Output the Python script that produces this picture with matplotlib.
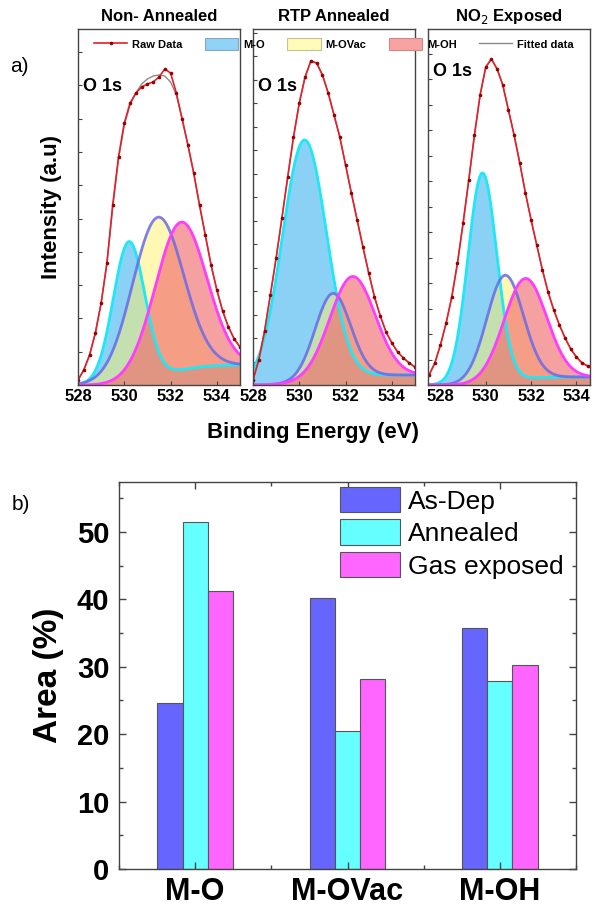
import numpy as np
import matplotlib
matplotlib.use('Agg')
import matplotlib.pyplot as plt
from matplotlib.patches import Patch
from matplotlib.lines import Line2D
from matplotlib.ticker import MultipleLocator

plt.rcParams['font.family'] = ['Liberation Sans', 'DejaVu Sans']

# ---------------- data: panel a (XPS O 1s) ----------------
PANEL_TITLES = ['Non- Annealed', 'RTP Annealed', 'NO$_2$ Exposed']
COMPONENT_NAMES = ['M-O', 'M-OVac', 'M-OH']

ENERGY_12 = [528.0, 528.25, 528.5, 528.75, 529.0, 529.25, 529.5, 529.75, 530.0,
             530.25, 530.5, 530.75, 531.0, 531.25, 531.5, 531.75, 532.0, 532.25,
             532.5, 532.75, 533.0, 533.25, 533.5, 533.75, 534.0, 534.25, 534.5,
             534.75, 535.0]
ENERGY_3 = [527.5, 527.75, 528.0, 528.25, 528.5, 528.75, 529.0, 529.25, 529.5,
            529.75, 530.0, 530.25, 530.5, 530.75, 531.0, 531.25, 531.5, 531.75,
            532.0, 532.25, 532.5, 532.75, 533.0, 533.25, 533.5, 533.75, 534.0,
            534.25, 534.5]

RAW_1 = [5, 15, 30, 52, 82, 122, 180, 228, 262, 282, 292, 298, 301, 303, 308,
         316, 312, 292, 266, 240, 212, 180, 150, 120, 95, 74, 58, 46, 38]
FIT_1 = [5, 15, 30, 52, 82, 122, 178, 226, 260, 280, 292, 301, 306, 309, 310,
         309, 303, 290, 266, 240, 212, 180, 150, 120, 95, 74, 58, 46, 38]
RAW_2 = [5, 25, 54, 90, 127, 167, 208, 248, 282, 308, 324, 322, 310, 292, 270,
         248, 220, 192, 165, 138, 112, 88, 69, 53, 42, 33, 27, 22, 18]
FIT_2 = RAW_2
RAW_3 = [10, 22, 40, 62, 88, 122, 162, 205, 250, 290, 318, 326, 316, 300, 275,
         250, 222, 192, 165, 140, 115, 93, 75, 60, 47, 36, 28, 22, 19]
FIT_3 = RAW_3

# fitted component peaks: centre (eV), height (a.u.), FWHM (eV)
CENTERS = [[530.2, 531.45, 532.45], [530.22, 531.45, 532.3], [529.85, 530.85, 531.75]]
HEIGHTS = [[140, 158, 148], [242, 85, 100], [210, 105, 100]]
FWHMS = [[1.6, 2.6, 2.6], [2.25, 1.8, 2.3], [1.5, 1.9, 2.2]]
BG_HIGH = [20, 10, 8]

# ---------------- data: panel b (bar chart) ----------------
BAR_CATEGORIES = ['M-O', 'M-OVac', 'M-OH']
AS_DEP = [24.6, 40.15, 35.7]
ANNEALED = [51.4, 20.5, 27.9]
GAS_EXPOSED = [41.3, 28.2, 30.3]
BAR_LABELS = ['As-Dep', 'Annealed', 'Gas exposed']

# ---------------- figure ----------------
W, H = 596, 911
fig = plt.figure(figsize=(W / 100, H / 100), dpi=100)


def fax(l, t, r, b):
    return fig.add_axes([l / W, 1 - b / H, (r - l) / W, (b - t) / H])


panel_px = [(78, 240), (253, 415), (428, 590)]
xlims = [(528.0, 535.0), (528.0, 535.0), (527.45, 534.6)]
ytick_step = [33.3, 23.5, 25.5]
otext_y = [299, 299, 314]
energies = [ENERGY_12, ENERGY_12, ENERGY_3]
raws = [RAW_1, RAW_2, RAW_3]
fits = [FIT_1, FIT_2, FIT_3]

fill_cols = ['#5ec0f2', '#fff06a', '#f26868']
fill_alpha = [0.72, 0.5, 0.62]
edge_cols = ['#1ee8f5', '#6a6ae6', '#ff3cff']
edge_alpha = [1.0, 0.85, 1.0]

spine_col = '#444444'
for i in range(3):
    l, r = panel_px[i]
    ax = fax(l, 29, r, 385)
    x0, x1 = xlims[i]
    xs = np.linspace(x0, x1, 500)
    peaks = []
    for c, h, w in zip(CENTERS[i], HEIGHTS[i], FWHMS[i]):
        peaks.append(h * np.exp(-4 * np.log(2) * (xs - c) ** 2 / w ** 2))
    tot = np.sum(peaks, axis=0)
    bg = BG_HIGH[i] * np.cumsum(tot) / np.sum(tot)
    for k in range(3):
        yk = peaks[k] + bg
        ax.fill_between(xs, 0, yk, color=fill_cols[k], alpha=fill_alpha[k], lw=0)
        ax.plot(xs, yk, color=edge_cols[k], lw=2.0, alpha=edge_alpha[k])
    ax.plot(energies[i], fits[i], color='#8a8a8a', lw=1.0)
    ax.plot(energies[i], raws[i], color='#e3202a', lw=1.2, marker='o', ms=1.6,
            mfc='#9a0000', mec='#9a0000')
    ax.set_xlim(x0, x1)
    ax.set_ylim(0, 356)
    ax.set_xticks([528, 530, 532, 534])
    ax.set_xticklabels(['528', '530', '532', '534'], fontsize=12, fontweight='bold')
    ax.yaxis.set_major_locator(MultipleLocator(ytick_step[i]))
    ax.set_yticklabels([])
    ax.tick_params(axis='y', direction='in', length=3, width=0.8, color=spine_col)
    ax.tick_params(axis='x', direction='in', length=3, width=0.8, color=spine_col, pad=3)
    for s in ax.spines.values():
        s.set_color(spine_col)
        s.set_linewidth(1.0)
    ax.set_title(PANEL_TITLES[i], fontsize=12, fontweight='bold', pad=6)
    ax.text(x0 + (5 / 23), otext_y[i], 'O 1s', fontsize=13, fontweight='bold',
            va='center', ha='left')

fig.text(313 / W, 1 - 433 / H, 'Binding Energy (eV)', fontsize=16, fontweight='bold',
         ha='center', va='center')
fig.text(52 / W, 1 - 207 / H, 'Intensity (a.u)', fontsize=16, fontweight='bold',
         ha='center', va='center', rotation=90)
fig.text(10 / W, 1 - 66 / H, 'a)', fontsize=15, ha='left', va='center')

handles = [
    Line2D([0], [0], color='#e3202a', lw=1.2, marker='o', ms=1.6, mfc='#9a0000', mec='#9a0000'),
    Patch(facecolor='#8fd3f7', edgecolor='#8aa9b8', lw=0.8),
    Patch(facecolor='#fffbb8', edgecolor='#c8c090', lw=0.8),
    Patch(facecolor='#f9a2a2', edgecolor='#d08888', lw=0.8),
    Line2D([0], [0], color='#8a8a8a', lw=1.0),
]
labels = ['Raw Data'] + COMPONENT_NAMES + ['Fitted data']
fig.legend(handles, labels, loc='center', bbox_to_anchor=(334 / W, 1 - 44 / H), ncol=5,
           frameon=False, prop={'size': 8, 'weight': 'bold'}, handlelength=3.0,
           handleheight=1.4, handletextpad=0.45, columnspacing=2.0, borderpad=0)

# ---------------- panel b ----------------
axb = fax(119, 482, 576, 869)
xpos = np.arange(len(BAR_CATEGORIES))
bw = 0.166
bar_cols = ['#6666ff', '#66ffff', '#ff66ff']
for j, (vals, col, lab) in enumerate(zip([AS_DEP, ANNEALED, GAS_EXPOSED], bar_cols, BAR_LABELS)):
    axb.bar(xpos + (j - 1) * bw, vals, width=bw, color=col, edgecolor='#555555', lw=0.8, label=lab)
axb.set_xlim(-0.5, 2.5)
axb.set_ylim(0, 57.4)
axb.set_xticks(xpos)
axb.set_xticklabels(BAR_CATEGORIES, fontsize=22, fontweight='bold')
axb.xaxis.set_minor_locator(MultipleLocator(0.5))
axb.yaxis.set_major_locator(MultipleLocator(10))
axb.yaxis.set_minor_locator(MultipleLocator(5))
for lab in axb.get_yticklabels():
    lab.set_fontsize(21)
    lab.set_fontweight('bold')
axb.tick_params(which='both', direction='in', top=True, right=True, color=spine_col, width=1.0)
axb.tick_params(which='major', length=5)
axb.tick_params(which='minor', length=3)
axb.tick_params(axis='x', pad=6)
axb.tick_params(axis='y', pad=7)
for s in axb.spines.values():
    s.set_color(spine_col)
    s.set_linewidth(1.0)
axb.set_ylabel('Area (%)', fontsize=24, fontweight='bold', labelpad=9)
axb.legend(loc='upper left', bbox_to_anchor=(340 / W, 1 - 487 / H), bbox_transform=fig.transFigure,
           frameon=False, fontsize=19, handlelength=2.27, handleheight=1.1,
           handletextpad=0.3, labelspacing=0.22, borderpad=0, borderaxespad=0)
fig.text(12 / W, 1 - 505 / H, 'b)', fontsize=15, ha='left', va='center')

fig.savefig('out.png', dpi=100)
